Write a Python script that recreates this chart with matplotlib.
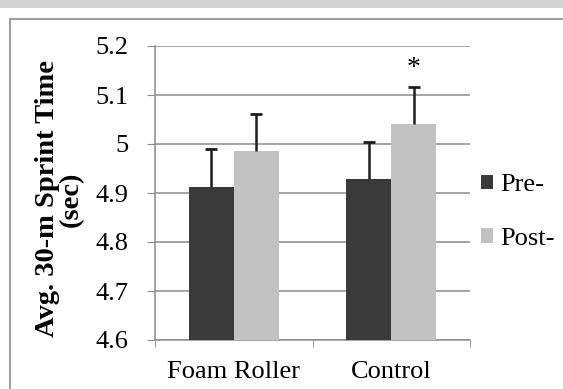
import numpy as np
import matplotlib
matplotlib.use("Agg")
import matplotlib.pyplot as plt
from matplotlib.patches import Rectangle

categories = ["Foam Roller", "Control"]
pre_vals = [4.912, 4.929]
post_vals = [4.986, 5.041]
pre_err = [0.077, 0.075]
post_err = [0.075, 0.075]
yticks = [4.6, 4.7, 4.8, 4.9, 5.0, 5.1, 5.2]
ytick_labels = ["4.6", "4.7", "4.8", "4.9", "5", "5.1", "5.2"]

plt.rcParams['font.family'] = ['Liberation Serif', 'DejaVu Serif']

fig = plt.figure(figsize=(5.63, 3.89), dpi=100)
W, H = 563, 389

# scanned-page look: grey band and outer chart frame
fig.patches.append(Rectangle((0, 1 - 8 / H), 1, 8 / H, transform=fig.transFigure,
                             facecolor="#d2d2d2", edgecolor="none", zorder=0))
fig.patches.append(Rectangle((10 / W, -0.1), 1.2, 1 - 19 / H + 0.1, transform=fig.transFigure,
                             facecolor="none", edgecolor="#8a8a8a", lw=1.2, zorder=1))

ax = fig.add_axes([155 / W, 1 - 340 / H, 315 / W, 294 / H])
x = np.arange(len(categories))
bw = 0.286
ax.bar(x - bw / 2, pre_vals, bw, color="#3a3a3a", zorder=3, label="Pre-")
ax.bar(x + bw / 2, post_vals, bw, color="#c2c2c2", zorder=3, label="Post-")

# upper-only error bars
for xs, vals, errs in [(x - bw / 2, pre_vals, pre_err), (x + bw / 2, post_vals, post_err)]:
    tops = np.array(vals) + np.array(errs)
    ax.vlines(xs, vals, tops, color="#1e1e1e", lw=1.8, zorder=4)
    ax.plot(xs, tops, ls="none", marker="_", ms=9, mew=2, color="#1e1e1e", zorder=4)

ax.text(x[1] + bw / 2, 5.155, "*", ha="center", va="center", fontsize=20)

ax.set_xlim(-0.5, 1.5)
ax.set_ylim(4.6, 5.2)
ax.set_yticks(yticks)
ax.set_yticklabels(ytick_labels, fontsize=19)
ax.yaxis.grid(True, color="#8c8c8c", lw=1.1, zorder=0)
ax.set_axisbelow(True)

ax.set_xticks(x)
ax.set_xticklabels(categories, fontsize=19)
ax.set_xticks([-0.5, 0.5, 1.5], minor=True)
ax.tick_params(axis="x", which="major", length=0, pad=15)
ax.tick_params(axis="x", which="minor", length=5, color="#8c8c8c", direction="out")
ax.tick_params(axis="y", length=6, color="#8c8c8c", direction="out", pad=13)

for s in ["top", "right"]:
    ax.spines[s].set_visible(False)
for s in ["left", "bottom"]:
    ax.spines[s].set_color("#8c8c8c")
    ax.spines[s].set_linewidth(1.1)

ax.set_ylabel("Avg. 30-m Sprint Time\n(sec)", fontsize=20.5, fontweight="bold", linespacing=0.95)
ax.yaxis.set_label_coords(-0.225, 0.48)

fig.legend(loc="center left", bbox_to_anchor=(457 / W, 1 - 212 / H), frameon=False,
           fontsize=19, handlelength=0.45, handleheight=0.45, handletextpad=0.3,
           labelspacing=1.2)

plt.savefig("out.png", dpi=100)
